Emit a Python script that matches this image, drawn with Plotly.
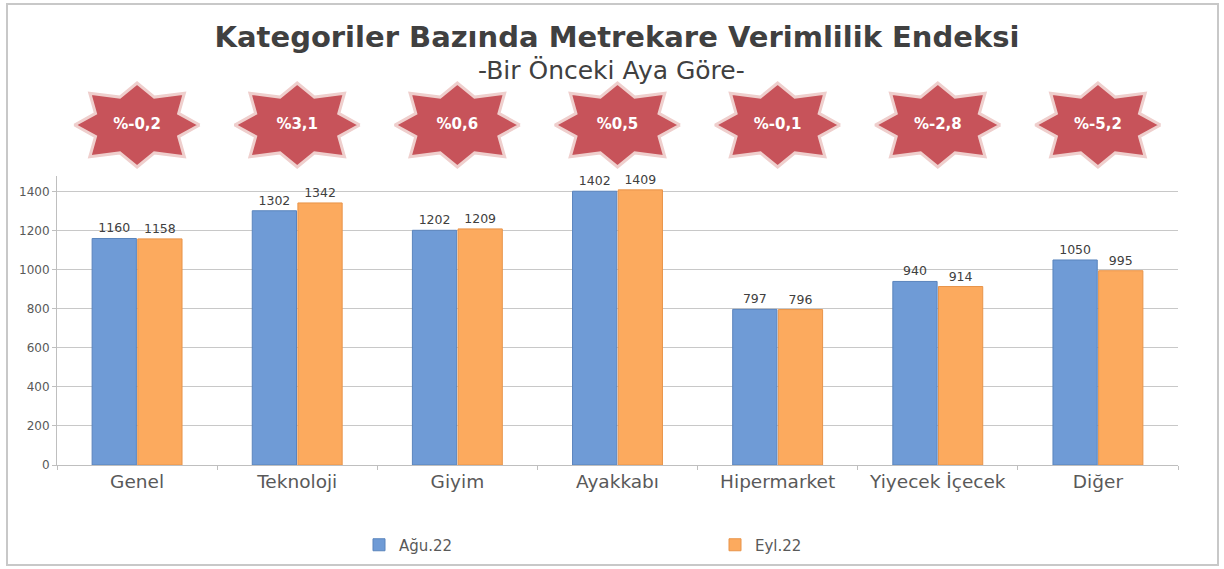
import numpy as np
import plotly.graph_objects as go

categories = ["Genel", "Teknoloji", "Giyim", "Ayakkabı", "Hipermarket", "Yiyecek İçecek", "Diğer"]
agu22 = [1160, 1302, 1202, 1402, 797, 940, 1050]
eyl22 = [1158, 1342, 1209, 1409, 796, 914, 995]
change_pct = [-0.2, 3.1, 0.6, 0.5, -0.1, -2.8, -5.2]
series_names = ["Ağu.22", "Eyl.22"]
y_ticks = [0, 200, 400, 600, 800, 1000, 1200, 1400]

W, H = 1224, 569
ML, MR, MT, MB = 57, 46, 78, 104
plot_h = H - MT - MB
main_top_px = 176
main_dom_top = (H - MB - main_top_px) / plot_h

FONT = "DejaVu Sans"
TXT = "#404040"

fig = go.Figure()

fig.add_trace(go.Bar(
    x=categories, y=agu22, name=series_names[0],
    marker=dict(color="#6F9BD6", line=dict(color="#5A84BD", width=1)),
    text=[str(v) for v in agu22], textposition="outside",
    textfont=dict(family=FONT, size=12.5, color=TXT), cliponaxis=False,
    xaxis="x", yaxis="y",
))
fig.add_trace(go.Bar(
    x=categories, y=eyl22, name=series_names[1],
    marker=dict(color="#FCAA5E", line=dict(color="#E8944A", width=1)),
    text=[str(v) for v in eyl22], textposition="outside",
    textfont=dict(family=FONT, size=12.5, color=TXT), cliponaxis=False,
    xaxis="x", yaxis="y",
))

# star badges above each category (8-pointed)
px_per_unit = (W - ML - MR) / len(categories)
rx = 62.5 / px_per_unit
ry = 42.0
cy = 45.0
k = np.arange(17)
ang = np.deg2rad(k * 22.5)
outer = np.where((k % 4) == 0, 1.0, 1.07)
rad = np.where(k % 2 == 0, outer, 0.72)
unit_x = rad * np.cos(ang)
unit_y = rad * np.sin(ang)
for i, p in enumerate(change_pct):
    xs = list(i + rx * unit_x)
    ys = list(cy + ry * unit_y)
    fig.add_trace(go.Scatter(
        x=xs, y=ys, mode="lines", fill="toself",
        fillcolor="#C7535A", line=dict(color="#EFCFCD", width=3),
        hoverinfo="skip", showlegend=False, xaxis="x2", yaxis="y2",
    ))
label_txt = ["%" + f"{p:.1f}".replace(".", ",") for p in change_pct]
fig.add_trace(go.Scatter(
    x=list(range(len(categories))), y=[cy] * len(categories), mode="text",
    text=label_txt, textfont=dict(family=FONT, size=15, color="white", weight="bold"),
    hoverinfo="skip", showlegend=False, xaxis="x2", yaxis="y2",
))

# outer frame
x0 = (7 - ML) / (W - ML - MR)
x1 = (W - 6 - ML) / (W - ML - MR)
y0 = (H - MB - (H - 4)) / plot_h
y1 = (H - MB - 4) / plot_h

fig.update_layout(
    width=W, height=H,
    margin=dict(l=ML, r=MR, t=MT, b=MB),
    paper_bgcolor="white", plot_bgcolor="white",
    barmode="group", bargap=0.43, bargroupgap=0.03,
    title=dict(
        text="Kategoriler Bazında Metrekare Verimlilik Endeksi",
        font=dict(family=FONT, size=29, color=TXT, weight="bold"),
        x=617 / W, xanchor="center", xref="container",
        y=1 - 37 / H, yanchor="middle", yref="container",
    ),
    annotations=[dict(
        text="-Bir Önceki Aya Göre-", showarrow=False,
        font=dict(family=FONT, size=25, color=TXT),
        xref="paper", yref="paper",
        x=(611 - ML) / (W - ML - MR), y=(H - MB - 70) / plot_h,
        xanchor="center", yanchor="middle",
    )],
    xaxis=dict(
        type="category", domain=[0, 1], showgrid=False,
        showline=True, linecolor="#BFBFBF", linewidth=1,
        ticks="outside", tickson="boundaries", ticklen=4, tickcolor="#BFBFBF",
        tickfont=dict(family=FONT, size=18.5, color="#595959"),
        anchor="y",
    ),
    yaxis=dict(
        domain=[0, main_dom_top], range=[0, 1480],
        tickvals=y_ticks, ticks="outside", ticklen=4, tickcolor="#BFBFBF",
        showline=True, linecolor="#BFBFBF", linewidth=1,
        showgrid=True, gridcolor="#C8C8C8", gridwidth=1,
        zeroline=False,
        tickfont=dict(family=FONT, size=12, color="#595959"),
        anchor="x",
    ),
    xaxis2=dict(domain=[0, 1], range=[-0.5, len(categories) - 0.5],
                visible=False, anchor="y2"),
    yaxis2=dict(domain=[(H - MB - 170) / plot_h, (H - MB - 80) / plot_h],
                range=[0, 90], visible=False, anchor="x2"),
    legend=dict(
        orientation="h", xref="container", yref="container",
        x=359 / W, xanchor="left", y=1 - 545 / H, yanchor="middle",
        entrywidth=311, entrywidthmode="pixels",
        font=dict(family=FONT, size=15, color="#595959"),
        bgcolor="rgba(0,0,0,0)",
    ),
    shapes=[dict(
        type="rect", xref="paper", yref="paper",
        x0=x0, x1=x1, y0=y0, y1=y1,
        line=dict(color="#C8C8C8", width=2), layer="below",
    )],
    showlegend=True,
)

fig.write_html("out.html", config={"displayModeBar": False},
               post_script="document.body.style.margin='0px';document.body.style.overflow='hidden';")
